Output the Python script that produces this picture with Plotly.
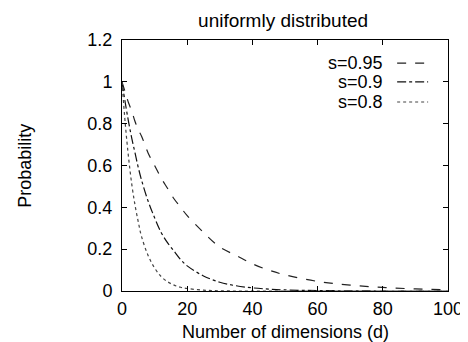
import plotly.graph_objects as go

title = "uniformly distributed"
x_title = "Number of dimensions (d)"
y_title = "Probability"

d = [0, 1, 2, 3, 4, 5, 6, 8, 10, 12, 14, 16, 18, 20, 25, 30, 35, 40, 45, 50, 60, 70, 80, 90, 100]
p_095 = [1.0, 0.95, 0.90, 0.86, 0.81, 0.77, 0.74, 0.66, 0.60, 0.54, 0.49, 0.44, 0.40, 0.36,
         0.28, 0.21, 0.17, 0.13, 0.10, 0.077, 0.046, 0.028, 0.017, 0.010, 0.006]
p_090 = [1.0, 0.90, 0.81, 0.73, 0.66, 0.59, 0.53, 0.43, 0.35, 0.28, 0.23, 0.19, 0.15, 0.12,
         0.072, 0.042, 0.025, 0.015, 0.009, 0.005, 0.002, 0.001, 0.0, 0.0, 0.0]
p_080 = [1.0, 0.80, 0.64, 0.51, 0.41, 0.33, 0.26, 0.17, 0.11, 0.069, 0.044, 0.028, 0.018, 0.012,
         0.004, 0.001, 0.0, 0.0, 0.0, 0.0, 0.0, 0.0, 0.0, 0.0, 0.0]

series_names = ["s=0.95", "s=0.9", "s=0.8"]
series_vals = [p_095, p_090, p_080]
dashes = ["dash", "dashdot", "dot"]
colors = ["#222222", "#111111", "#444444"]

FONT = "Liberation Sans, Arial, Helvetica, sans-serif"
fig = go.Figure()
for name, vals, dsh, col in zip(series_names, series_vals, dashes, colors):
    fig.add_trace(go.Scatter(x=d, y=vals, mode="lines", name=name, showlegend=False,
                             line=dict(color=col, width=1.2, dash=dsh, shape="spline")))

# legend (gnuplot style: text on left, sample on right)
leg_y = [0.908, 0.833, 0.753]
for name, dsh, col, yy in zip(series_names, dashes, colors, leg_y):
    fig.add_annotation(x=0.807, y=yy, xref="paper", yref="paper", text=name, showarrow=False,
                       xanchor="right", yanchor="middle", font=dict(size=18, color="black", family=FONT))
    fig.add_shape(type="line", xref="paper", yref="paper", x0=0.844, x1=0.939, y0=yy, y1=yy,
                  line=dict(color=col, width=1.2, dash=dsh))

# axis titles
fig.add_annotation(x=0.5, y=-0.163, xref="paper", yref="paper", text=x_title, showarrow=False,
                   xanchor="center", yanchor="middle", font=dict(size=18, color="black", family=FONT))
fig.add_annotation(x=-0.298, y=0.498, xref="paper", yref="paper", text=y_title, showarrow=False,
                   textangle=-90, xanchor="center", yanchor="middle",
                   font=dict(size=18, color="black", family=FONT))

axis_common = dict(showline=True, linecolor="black", linewidth=1, mirror="ticks", ticks="inside",
                   ticklen=5, tickcolor="black", showgrid=False, zeroline=False, automargin=False,
                   tickfont=dict(size=18, color="black", family=FONT))
# page body adds an 8px offset, so the figure is 8px smaller and margins shifted
fig.update_layout(
    width=460, height=334,
    margin=dict(l=114, r=20, t=32, b=51, autoexpand=False),
    paper_bgcolor="white", plot_bgcolor="white",
    title=dict(text=title, x=0.598, xanchor="center", y=0.964, yanchor="middle",
               font=dict(size=19, color="black", family=FONT)),
    xaxis=dict(range=[0, 100], tickvals=[0, 20, 40, 60, 80, 100], ticklabelstandoff=1, **axis_common),
    yaxis=dict(range=[0, 1.2], tickvals=[0, 0.2, 0.4, 0.6, 0.8, 1, 1.2],
               ticktext=["0", "0.2", "0.4", "0.6", "0.8", "1", "1.2"], ticklabelstandoff=5,
               **axis_common),
)
fig.write_html("out.html")
